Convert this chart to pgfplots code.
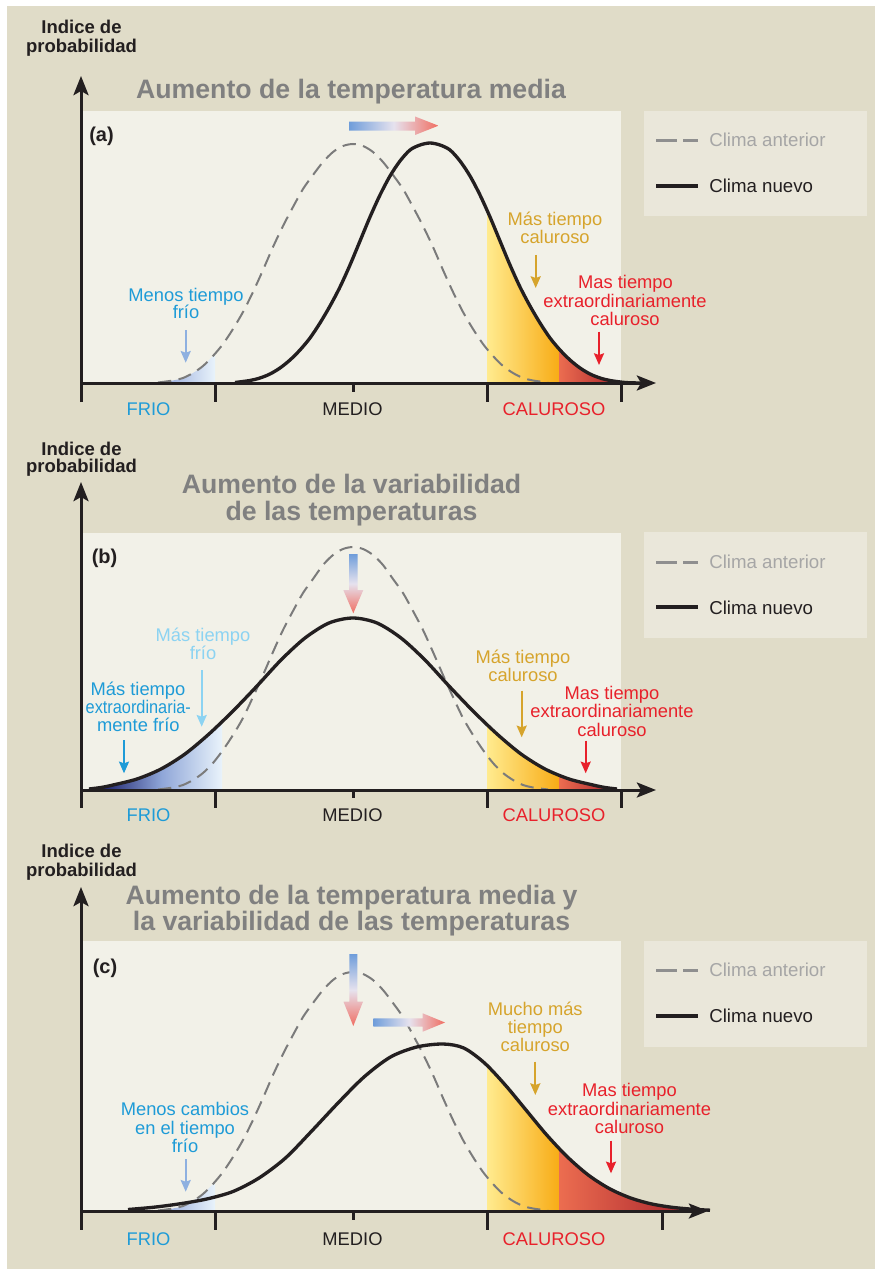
\documentclass[border=0pt]{standalone}
\usepackage{pgfplots}
\pgfplotsset{compat=1.18}
\usetikzlibrary{arrows.meta}
\usepackage{fontspec}
\setmainfont{Liberation Sans}

\definecolor{bgbeige}{HTML}{E0DCC8}
\definecolor{panelc}{HTML}{F2F1E8}
\definecolor{legbox}{HTML}{EAE7DA}
\definecolor{tgray}{HTML}{808080}
\definecolor{lgray}{HTML}{A6A6A6}
\definecolor{oldgray}{HTML}{7B7B7B}
\definecolor{txtblack}{HTML}{231F20}
\definecolor{cblue}{HTML}{1E9BD7}
\definecolor{cltblue}{HTML}{8CD3F2}
\definecolor{cgold}{HTML}{D6A42C}
\definecolor{cred}{HTML}{E8212B}
\definecolor{arrblue}{HTML}{8EB0E0}
\definecolor{arB}{HTML}{6F9DDA}
\definecolor{arM}{HTML}{E6E2EE}
\definecolor{arR}{HTML}{F06E62}
\definecolor{blL}{HTML}{8EA3D8}
\definecolor{blR}{HTML}{E9F3FB}
\definecolor{bnL}{HTML}{1A1F6B}
\definecolor{bnM}{HTML}{8FA6D8}
\definecolor{yL}{HTML}{FFEB8F}
\definecolor{yR}{HTML}{F8AC16}
\definecolor{rL}{HTML}{EC6D50}
\definecolor{rR}{HTML}{A51F2A}

\pgfplotsset{
  panel/.style={scale only axis, hide axis, clip=false,
    xmin=81, xmax=720, ymin=0, ymax=260,
    width=383.4pt, height=156pt, anchor=south west},
  newc/.style={line width=2pt, color=txtblack, smooth},
  oldc/.style={line width=1.2pt, color=oldgray, dash pattern=on 8pt off 4.5pt, smooth},
  shd/.style={draw=none, smooth},
}

\begin{document}
\begin{tikzpicture}[x=0.6pt, y=0.6pt,
  lab/.style={anchor=base, inner sep=0pt, font=\fontsize{11}{11}\selectfont},
  tit/.style={anchor=base, inner sep=0pt, text=tgray, font=\fontsize{16}{16}\selectfont\bfseries},
  ind/.style={anchor=base, inner sep=0pt, text=txtblack, font=\fontsize{11.1}{11}\selectfont\bfseries},
  plab/.style={anchor=base west, inner sep=0pt, text=txtblack, font=\fontsize{12}{12}\selectfont\bfseries},
  legt/.style={anchor=base west, inner sep=0pt, font=\fontsize{11.2}{11}\selectfont},
  axl/.style={line width=1.8pt, color=txtblack},
  axa/.style={line width=1.8pt, color=txtblack, -{Stealth[length=11.5pt,width=9pt,inset=2.5pt]}},
  ann/.style={line width=1.2pt, -{Stealth[length=7pt,width=6pt,inset=1pt]}},
]
% backgrounds
\fill[white] (0,0) rectangle (875,-1269);
\fill[bgbeige] (7,-6) rectangle (875,-1269);
\fill[panelc] (83,-111) rectangle (621,-383);
\fill[panelc] (83,-533) rectangle (621,-790);
\fill[panelc] (83,-941) rectangle (621,-1211);
\fill[legbox] (644,-111) rectangle (867,-216);
\fill[legbox] (644,-532) rectangle (867,-638);
\fill[legbox] (644,-941) rectangle (867,-1047);

% ---------------- panel (a)
\begin{axis}[panel, at={(48.6pt,-229.8pt)}]
\addplot[shd, left color=blL, right color=blR] coordinates {(158,0.5)(173,2.5)(183,5)(193,10)(203,17)(213,27)(215,29.4)} \closedcycle;
\addplot[shd, left color=yL, right color=yR] coordinates {(487,173)(490,166)(500,142)(510,118)(520,96)(530,77)(540,60)(550,45)(559,34)} \closedcycle;
\addplot[shd, left color=rL, right color=rR] coordinates {(559,34)(560,33)(570,23)(580,15)(590,9)(600,5)(610,2.5)(625,0.5)} \closedcycle;
\addplot[oldc] coordinates {(158,0.5)(173,2.5)(183,5)(193,10)(203,17)(213,27)(223,39)(233,54)(243,71)(253,91)(263,113)(273,136)(283,157)(293,176)(303,194)(313,208)(323,221)(333,231)(343,237)(353,239)(363,237)(373,231)(383,221)(393,208)(403,194)(413,176)(423,157)(433,136)(443,113)(453,91)(463,71)(473,54)(483,39)(493,27)(503,17)(513,10)(523,5)(533,2.5)(548,0.5)};
\addplot[newc] coordinates {(235,0.5)(250,2.5)(260,5)(270,9)(280,15)(290,23)(300,33)(310,45)(320,60)(330,77)(340,96)(350,118)(360,142)(370,166)(380,188)(390,207)(400,222)(410,233)(420,238)(430,240)(440,238)(450,233)(460,222)(470,207)(480,188)(490,166)(500,142)(510,118)(520,96)(530,77)(540,60)(550,45)(560,33)(570,23)(580,15)(590,9)(600,5)(610,2.5)(625,0.5)(640,0)};
\end{axis}

% ---------------- panel (b)
\begin{axis}[panel, at={(48.6pt,-474pt)}]
\addplot[shd, left color=bnL, right color=blR, middle color=bnM] coordinates {(101,2.5)(113,5)(137,11)(161,21)(185,36)(209,56)(222,67.5)} \closedcycle;
\addplot[shd, left color=yL, right color=yR] coordinates {(487,66)(497,56)(521,36)(545,21)(559,15)} \closedcycle;
\addplot[shd, left color=rL, right color=rR] coordinates {(559,15)(569,11)(593,5)(605,2.5)(617,1)} \closedcycle;
\addplot[oldc] coordinates {(158,0.5)(173,2.5)(183,5)(193,10)(203,17)(213,27)(223,40)(233,55)(243,72)(253,93)(263,115)(273,138)(283,160)(293,179)(303,197)(313,211)(323,225)(333,235)(343,241)(353,243)(363,241)(373,235)(383,225)(393,211)(403,197)(413,179)(423,160)(433,138)(443,115)(453,93)(463,72)(473,55)(483,40)(493,27)(503,17)(513,10)(523,5)(533,2.5)(548,0.5)};
\addplot[newc] coordinates {(89,1)(101,2.5)(113,5)(137,11)(161,21)(185,36)(209,56)(233,79)(257,104)(281,130)(305,152)(329,167)(353,172)(377,167)(401,152)(425,130)(449,104)(473,79)(497,56)(521,36)(545,21)(569,11)(593,5)(605,2.5)(617,1)};
\end{axis}

% ---------------- panel (c)
\begin{axis}[panel, at={(48.6pt,-726.6pt)}]
\addplot[shd, left color=blL, right color=blR] coordinates {(158,0.5)(173,2.5)(183,5)(193,10)(203,17)(213,27)(215,29.4)} \closedcycle;
\addplot[shd, left color=yL, right color=yR] coordinates {(487,145.5)(505.25,126)(526,101)(546.75,76)(559,63)} \closedcycle;
\addplot[shd, left color=rL, right color=rR] coordinates {(559,63)(567.5,54)(588.25,36)(609,22.6)(629.75,13.3)(650.5,7.3)(671.25,3.8)(692,1.8)(700,1.4)} \closedcycle;
\addplot[oldc] coordinates {(158,0.5)(173,2.5)(183,5)(193,10)(203,17)(213,27)(223,39)(233,54)(243,71)(253,91)(263,113)(273,136)(283,157)(293,176)(303,194)(313,208)(323,221)(333,231)(343,237)(353,239)(363,237)(373,231)(383,221)(393,208)(403,194)(413,176)(423,157)(433,136)(443,113)(453,91)(463,71)(473,54)(483,39)(493,27)(503,17)(513,10)(523,5)(533,2.5)(548,0.5)};
\addplot[newc] coordinates {(128,1.5)(154,3.8)(180.5,7.3)(206.75,12)(233,19.5)(259,33)(285.5,53)(311.75,80)(338,108)(364,134)(390.5,154)(416.75,164)(443,167)(463.75,163)(484.5,148)(505.25,126)(526,101)(546.75,76)(567.5,54)(588.25,36)(609,22.6)(629.75,13.3)(650.5,7.3)(671.25,3.8)(692,1.8)(710,0.8)};
\end{axis}

% ---------------- axes lines and ticks
% (a)
\draw[axa] (81,-402) -- (81,-76);
\draw[axa] (80,-383) -- (656,-383);
\draw[axl] (215,-383) -- (215,-402);
\draw[axl] (353,-383) -- (353,-392);
\draw[axl] (487,-383) -- (487,-402);
\draw[axl] (621,-383) -- (621,-402);
% (b)
\draw[axa] (81,-807.5) -- (81,-482);
\draw[axa] (80,-790) -- (656,-790);
\draw[axl] (215,-790) -- (215,-807.5);
\draw[axl] (353,-790) -- (353,-798);
\draw[axl] (487,-790) -- (487,-807.5);
\draw[axl] (621,-790) -- (621,-807.5);
% (c)
\draw[axa] (81,-1229.5) -- (81,-887);
\draw[axa] (80,-1211) -- (708,-1211);
\draw[axl] (215,-1211) -- (215,-1229.5);
\draw[axl] (353,-1211) -- (353,-1220);
\draw[axl] (487,-1211) -- (487,-1229.5);
\draw[axl] (662,-1211) -- (662,-1229.5);

% ---------------- gradient arrows
\shade[left color=arB, right color=arR, middle color=arM] (349,-121.7) -- (415,-121.7) -- (415,-116.5) -- (438.5,-125.7) -- (415,-135) -- (415,-130.7) -- (349,-130.7) -- cycle;
\shade[top color=arB, bottom color=arR, middle color=arM] (349,-554) -- (357.6,-554) -- (357.6,-590) -- (363.3,-590) -- (353.3,-613.3) -- (343.3,-590) -- (349,-590) -- cycle;
\shade[top color=arB, bottom color=arR, middle color=arM] (349.3,-954) -- (357.3,-954) -- (357.3,-1001.7) -- (363,-1001.7) -- (353.3,-1026) -- (343.5,-1001.7) -- (349.3,-1001.7) -- cycle;
\shade[left color=arB, right color=arR, middle color=arM] (373.3,-1018.3) -- (422.7,-1018.3) -- (422.7,-1013.3) -- (445,-1022.5) -- (422.7,-1031.7) -- (422.7,-1026.7) -- (373.3,-1026.7) -- cycle;

% ---------------- y labels, titles, panel labels
\node[ind] at (81.5,-34) {Indice de};
\node[ind] at (81.5,-52.5) {probabilidad};
\node[ind] at (81.5,-455) {Indice de};
\node[ind] at (81.5,-472.3) {probabilidad};
\node[ind] at (81.5,-857.7) {Indice de};
\node[ind] at (81.5,-876.7) {probabilidad};

\node[tit] at (351,-99) {Aumento de la temperatura media};
\node[tit] at (351.5,-493.3) {Aumento de la variabilidad};
\node[tit] at (351.5,-520.7) {de las temperaturas};
\node[tit] at (351.5,-904) {Aumento de la temperatura media y};
\node[tit] at (351.5,-930) {la variabilidad de las temperaturas};

\node[plab] at (89,-142) {(a)};
\node[plab] at (91.5,-563) {(b)};
\node[plab] at (92.5,-973.5) {(c)};

% ---------------- category labels
\foreach \yy in {415,821.5,1245} {
  \node[lab, text=cblue] at (148.5,-\yy) {FRIO};
  \node[lab, text=txtblack] at (352.5,-\yy) {MEDIO};
  \node[lab, text=cred] at (554,-\yy) {CALUROSO};
}

% ---------------- legends
\foreach \ya/\yb/\ta/\tb in {140.7/185.7/146.7/192.7, 562.3/607/568.3/614.3, 970.7/1015.7/976.7/1022.7} {
  \draw[line width=1.5pt, color=oldgray!85] (656,-\ya) -- (676.7,-\ya);
  \draw[line width=1.5pt, color=oldgray!85] (683.3,-\ya) -- (698.3,-\ya);
  \draw[line width=2.3pt, color=txtblack] (656,-\yb) -- (698.3,-\yb);
  \node[legt, text=lgray] at (709,-\ta) {Clima anterior};
  \node[legt, text=txtblack] at (709,-\tb) {Clima nuevo};
}

% ---------------- annotations (a)
\node[lab, text=cblue] at (186,-301.7) {Menos tiempo};
\node[lab, text=cblue] at (186,-319) {frío};
\draw[ann, arrblue] (185.7,-330) -- (185.7,-362.7);
\node[lab, text=cgold] at (555,-225.7) {Más tiempo};
\node[lab, text=cgold] at (555,-244) {caluroso};
\draw[ann, cgold] (535.7,-255) -- (535.7,-288);
\node[lab, text=cred] at (625.5,-289) {Mas tiempo};
\node[lab, text=cred] at (625,-307) {extraordinariamente};
\node[lab, text=cred] at (625,-325.7) {caluroso};
\draw[ann, cred] (599,-331.7) -- (599,-365);

% ---------------- annotations (b)
\node[lab, text=cltblue] at (203,-641.7) {Más tiempo};
\node[lab, text=cltblue] at (203,-659.3) {frío};
\draw[ann, cltblue] (201.7,-670) -- (201.7,-726.7);
\node[lab, text=cblue] at (138,-695) {Más tiempo};
\node[lab, text=cblue] at (138.3,-713.3) {\scalebox{0.89}[1]{extraordinaria-}};
\node[lab, text=cblue] at (138.3,-731.7) {mente frío};
\draw[ann, cblue] (124,-740) -- (124,-773.3);
\node[lab, text=cgold] at (523,-663.3) {Más tiempo};
\node[lab, text=cgold] at (523,-681) {caluroso};
\draw[ann, cgold] (521.7,-690.7) -- (521.7,-737.3);
\node[lab, text=cred] at (612,-699) {Mas tiempo};
\node[lab, text=cred] at (612,-717.3) {extraordinariamente};
\node[lab, text=cred] at (612,-736) {caluroso};
\draw[ann, cred] (585.7,-740.7) -- (585.7,-773.3);

% ---------------- annotations (c)
\node[lab, text=cblue] at (185,-1115.7) {Menos cambios};
\node[lab, text=cblue] at (185,-1134) {en el tiempo};
\node[lab, text=cblue] at (185,-1152.3) {frío};
\draw[ann, arrblue] (185.7,-1159.3) -- (185.7,-1191.7);
\node[lab, text=cgold] at (535.3,-1015) {Mucho más};
\node[lab, text=cgold] at (535.3,-1033.3) {tiempo};
\node[lab, text=cgold] at (535.3,-1051.7) {caluroso};
\draw[ann, cgold] (535.3,-1061.7) -- (535.3,-1095);
\node[lab, text=cred] at (629.5,-1096.7) {Mas tiempo};
\node[lab, text=cred] at (629.5,-1115) {extraordinariamente};
\node[lab, text=cred] at (629.5,-1133.3) {caluroso};
\draw[ann, cred] (611,-1140.7) -- (611,-1173.3);
\end{tikzpicture}
\end{document}
